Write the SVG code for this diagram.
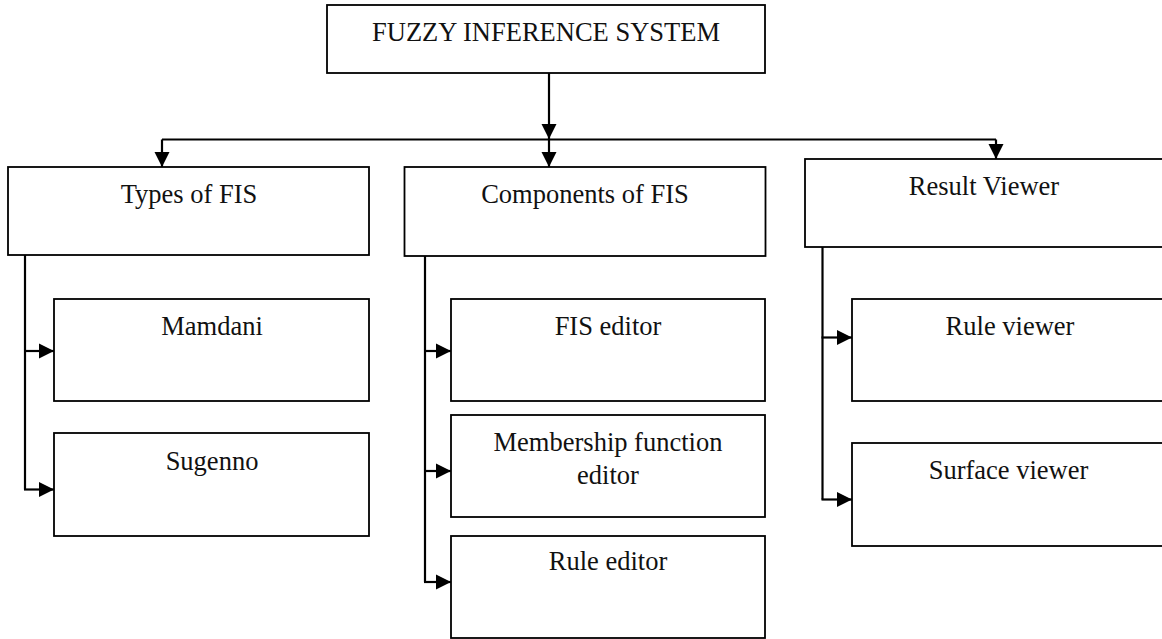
<svg xmlns="http://www.w3.org/2000/svg" width="1162" height="639" viewBox="0 0 1162 639">
<style>
.box{fill:#fff;stroke:#000;stroke-width:1.8}
.lbl{font-family:"Liberation Serif","Times New Roman",serif;font-size:26.5px;fill:#111;text-anchor:middle}
.ln{fill:none;stroke:#000;stroke-width:2.2}
.arr{marker-end:url(#ah)}
</style>
<defs>
<marker id="ah" markerUnits="userSpaceOnUse" markerWidth="16" markerHeight="16" refX="15" refY="8" orient="auto">
<path d="M0,0.5 L15,8 L0,15.5 z" fill="#000"/>
</marker>
</defs>
<rect width="1162" height="639" fill="#fff"/>
<g id="connectors">
<path class="ln arr" d="M549,73 V139"/>
<path class="ln arr" d="M549,139.5 V167"/>
<path class="ln" d="M162,139.5 H996"/>
<path class="ln arr" d="M162,139.5 V167"/>
<path class="ln arr" d="M996,139.5 V159"/>
<path class="ln" d="M25,255 V489.5"/>
<path class="ln arr" d="M24,351 H54"/>
<path class="ln arr" d="M24,489.5 H54"/>
<path class="ln" d="M425,256 V582"/>
<path class="ln arr" d="M424,351 H451"/>
<path class="ln arr" d="M424,471 H451"/>
<path class="ln arr" d="M424,582 H451"/>
<path class="ln" d="M822.5,247 V499.5"/>
<path class="ln arr" d="M821.5,337.5 H852"/>
<path class="ln arr" d="M821.5,499.5 H852"/>
</g>
<g id="fis">
<rect class="box" x="327" y="5" width="438" height="68"/>
<text class="lbl" x="546" y="41">FUZZY INFERENCE SYSTEM</text>
</g>
<g id="types">
<rect class="box" x="8" y="167" width="361" height="88"/>
<text class="lbl" x="189" y="203">Types of FIS</text>
</g>
<g id="components">
<rect class="box" x="404.5" y="167" width="361" height="89"/>
<text class="lbl" x="585" y="203">Components of FIS</text>
</g>
<g id="result">
<rect class="box" x="805" y="159" width="362" height="88"/>
<text class="lbl" x="984" y="195">Result Viewer</text>
</g>
<g id="mamdani">
<rect class="box" x="54" y="299" width="315" height="102"/>
<text class="lbl" x="212" y="335">Mamdani</text>
</g>
<g id="sugenno">
<rect class="box" x="54" y="433" width="315" height="103"/>
<text class="lbl" x="212" y="469.5">Sugenno</text>
</g>
<g id="fis-editor">
<rect class="box" x="451" y="299" width="314" height="102"/>
<text class="lbl" x="608" y="334.5">FIS editor</text>
</g>
<g id="membership">
<rect class="box" x="451" y="415" width="314" height="102"/>
<text class="lbl" x="608" y="451">Membership function</text>
<text class="lbl" x="608" y="484">editor</text>
</g>
<g id="rule-editor">
<rect class="box" x="451" y="536" width="314" height="102"/>
<text class="lbl" x="608" y="570">Rule editor</text>
</g>
<g id="rule-viewer">
<rect class="box" x="852" y="299" width="320" height="102"/>
<text class="lbl" x="1010" y="334.5">Rule viewer</text>
</g>
<g id="surface-viewer">
<rect class="box" x="852" y="443" width="320" height="103"/>
<text class="lbl" x="1008.5" y="479">Surface viewer</text>
</g>
</svg>
